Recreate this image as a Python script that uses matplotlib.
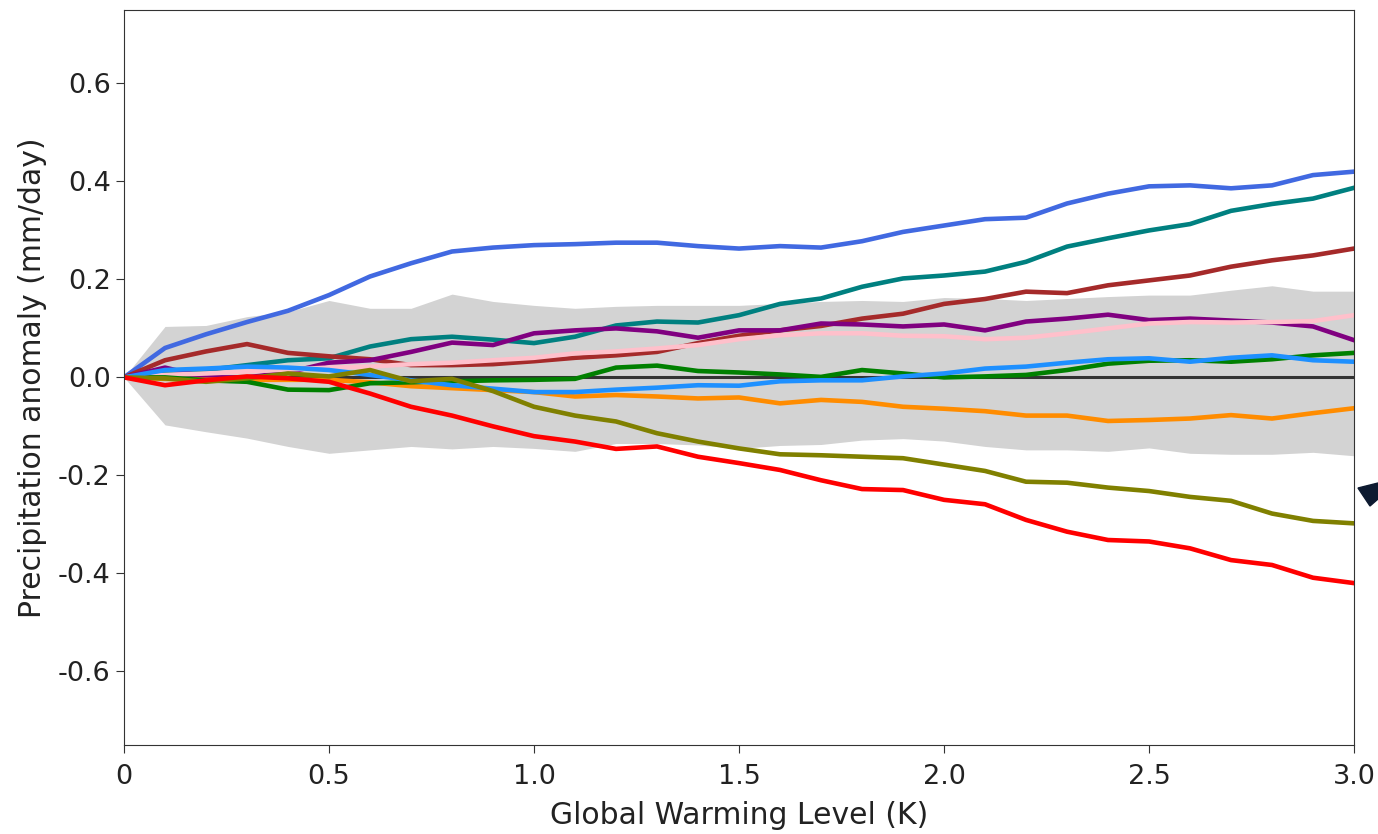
import matplotlib
matplotlib.use("Agg")
import matplotlib.pyplot as plt
from matplotlib.patches import Polygon
import numpy as np

plt.rcParams['axes.unicode_minus'] = False

# global warming levels, 0.1 K steps
gwl = np.round(np.arange(0, 3.01, 0.1), 1)

# spread of the reference ensemble (grey band)
band_hi = [0, 0.104, 0.106, 0.124, 0.134, 0.157, 0.141, 0.141, 0.17, 0.155, 0.147,
           0.141, 0.145, 0.147, 0.147, 0.147, 0.151, 0.155, 0.157, 0.155, 0.163,
           0.161, 0.157, 0.161, 0.165, 0.168, 0.168, 0.178, 0.187, 0.176, 0.176]
band_lo = [0, -0.097, -0.111, -0.124, -0.141, -0.155, -0.148, -0.141, -0.146, -0.141, -0.145,
           -0.151, -0.135, -0.135, -0.138, -0.145, -0.139, -0.137, -0.128, -0.125, -0.13,
           -0.141, -0.148, -0.148, -0.151, -0.144, -0.155, -0.157, -0.157, -0.153, -0.16]

royalblue = [0, 0.06, 0.088, 0.113, 0.136, 0.168, 0.206, 0.233, 0.257, 0.265, 0.27,
             0.272, 0.275, 0.275, 0.268, 0.263, 0.268, 0.265, 0.278, 0.297, 0.31,
             0.323, 0.326, 0.355, 0.375, 0.39, 0.392, 0.386, 0.392, 0.413, 0.42]
teal = [0, 0.008, 0.015, 0.025, 0.035, 0.039, 0.063, 0.078, 0.083, 0.077, 0.07,
        0.083, 0.106, 0.114, 0.112, 0.127, 0.15, 0.161, 0.185, 0.202, 0.208,
        0.216, 0.236, 0.267, 0.284, 0.30, 0.313, 0.34, 0.354, 0.365, 0.387]
brown = [0, 0.035, 0.053, 0.068, 0.05, 0.043, 0.037, 0.025, 0.025, 0.027, 0.033,
         0.04, 0.045, 0.052, 0.07, 0.085, 0.096, 0.105, 0.12, 0.13, 0.15,
         0.16, 0.175, 0.172, 0.188, 0.198, 0.208, 0.226, 0.239, 0.249, 0.263]
purple = [0, 0.02, 0.0, 0.0, 0.01, 0.03, 0.035, 0.052, 0.071, 0.066, 0.09,
          0.096, 0.1, 0.094, 0.081, 0.096, 0.096, 0.11, 0.108, 0.104, 0.108,
          0.096, 0.114, 0.12, 0.128, 0.117, 0.12, 0.116, 0.112, 0.104, 0.076]
pink = [0, 0.005, 0.008, 0.012, 0.016, 0.02, 0.022, 0.027, 0.03, 0.035, 0.04,
        0.049, 0.053, 0.059, 0.066, 0.078, 0.086, 0.09, 0.09, 0.085, 0.084,
        0.078, 0.081, 0.09, 0.1, 0.11, 0.113, 0.112, 0.113, 0.115, 0.127]
dodgerblue = [0, 0.015, 0.018, 0.022, 0.02, 0.015, 0.005, -0.006, -0.016, -0.023, -0.03,
              -0.03, -0.025, -0.021, -0.016, -0.017, -0.008, -0.006, -0.006, 0.002, 0.008,
              0.018, 0.022, 0.03, 0.037, 0.039, 0.032, 0.04, 0.045, 0.035, 0.032]
green = [0, 0.0, -0.006, -0.009, -0.025, -0.026, -0.012, -0.01, -0.008, -0.006, -0.005,
         -0.003, 0.02, 0.024, 0.013, 0.01, 0.006, 0.001, 0.015, 0.008, 0.0,
         0.002, 0.005, 0.015, 0.028, 0.034, 0.035, 0.032, 0.037, 0.045, 0.05]
orange = [0, -0.003, -0.005, -0.005, -0.005, -0.005, -0.01, -0.018, -0.022, -0.026, -0.03,
          -0.039, -0.036, -0.039, -0.043, -0.041, -0.053, -0.046, -0.05, -0.06, -0.064,
          -0.069, -0.078, -0.078, -0.089, -0.087, -0.084, -0.077, -0.084, -0.073, -0.063]
olive = [0, -0.002, -0.009, -0.002, 0.008, 0.002, 0.015, -0.008, -0.003, -0.028, -0.06,
         -0.078, -0.09, -0.114, -0.131, -0.145, -0.157, -0.159, -0.162, -0.165, -0.178,
         -0.191, -0.213, -0.215, -0.225, -0.232, -0.244, -0.252, -0.278, -0.293, -0.298]
red = [0, -0.016, -0.006, 0.002, -0.002, -0.009, -0.033, -0.06, -0.078, -0.1, -0.12,
       -0.131, -0.146, -0.141, -0.162, -0.175, -0.189, -0.21, -0.228, -0.23, -0.25,
       -0.259, -0.291, -0.315, -0.332, -0.335, -0.349, -0.373, -0.383, -0.409, -0.42]

series = [(royalblue, 'royalblue'), (teal, 'teal'), (brown, 'brown'),
          (purple, 'purple'), (pink, 'pink'), (orange, 'darkorange'),
          (green, 'green'), (dodgerblue, 'dodgerblue'), (olive, 'olive'), (red, 'red')]

xticks = [0, 0.5, 1.0, 1.5, 2.0, 2.5, 3.0]
xticklabels = ['0', '0.5', '1.0', '1.5', '2.0', '2.5', '3.0']
yticks = [-0.6, -0.4, -0.2, 0.0, 0.2, 0.4, 0.6]

fig = plt.figure(figsize=(13.78, 8.34), dpi=100)
ax = fig.add_axes([0.09, 0.107, 0.8926, 0.881])

ax.fill_between(gwl, band_lo, band_hi, color='lightgrey', lw=0)
ax.axhline(0, color='#333333', lw=2.2)
for vals, col in series:
    ax.plot(gwl, vals, color=col, lw=3.3)

ax.set_xlim(0, 3.0)
ax.set_ylim(-0.75, 0.75)
ax.set_xticks(xticks)
ax.set_xticklabels(xticklabels)
ax.set_yticks(yticks)
ax.set_yticklabels(['%.1f' % v for v in yticks])
ax.tick_params(labelsize=19.5, length=6, color='#333333', labelcolor='#222222')
ax.tick_params(axis='x', pad=8)
for s in ax.spines.values():
    s.set_color('#333333')
ax.set_xlabel('Global Warming Level (K)', fontsize=21.5, color='#222222', labelpad=8)
ax.set_ylabel('Precipitation anomaly (mm/day)', fontsize=21.5, color='#222222', labelpad=8)

# dark marker cut off at the right edge
pts = [(1358, 488), (1378, 483), (1378, 499), (1370, 506)]
tri = Polygon([[px / 1378, 1 - py / 834] for px, py in pts], closed=True,
              transform=fig.transFigure, color='#0d1a30')
fig.patches.append(tri)

fig.savefig('out.png', dpi=100)
